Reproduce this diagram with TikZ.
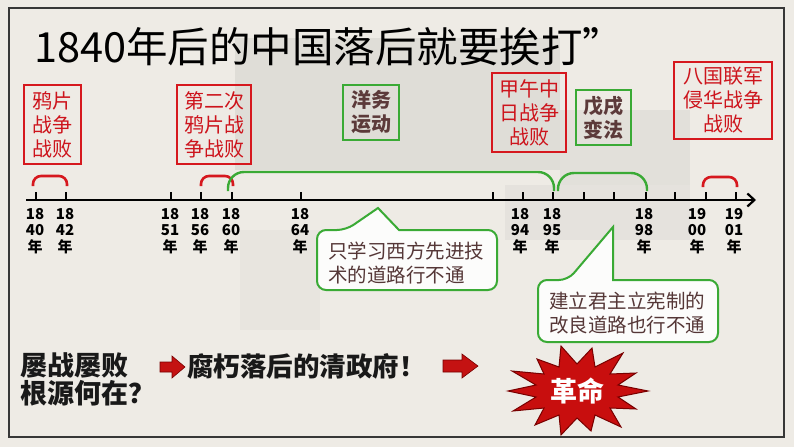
\documentclass[tikz,border=0pt]{standalone}
\usepackage{fontspec}
\setmainfont{Noto Sans CJK SC}
\usetikzlibrary{arrows.meta}
\definecolor{boxred}{RGB}{214,24,30}
\definecolor{txtred}{RGB}{205,20,28}
\definecolor{boxgreen}{RGB}{58,170,53}
\definecolor{txtbrown}{RGB}{92,58,58}
\definecolor{calltxt}{RGB}{85,55,55}
\definecolor{framecol}{RGB}{55,55,55}
\definecolor{bgcol}{RGB}{238,235,229}
\definecolor{arrowred}{RGB}{196,18,18}
\definecolor{burstred}{RGB}{200,14,14}
\definecolor{burstedge}{RGB}{120,0,0}
\tikzset{
 redbox/.style={draw=boxred, line width=2.4pt, text=txtred, font=\fontsize{20}{24}\selectfont, align=center, inner sep=0pt},
 greenbox/.style={draw=boxgreen, line width=2.4pt, text=txtbrown, font=\fontsize{20}{24}\selectfont\bfseries, align=center, inner sep=0pt},
 yearlbl/.style={font=\fontsize{15}{16.5}\selectfont\bfseries, align=center, anchor=north, inner sep=0pt},
 tickmark/.style={line width=2pt},
 redbracket/.style={draw=boxred, line width=2.6pt, rounded corners=8pt},
 greenbracket/.style={draw=boxgreen, line width=2.4pt, rounded corners=16pt},
 callout/.style={draw=boxgreen, line width=2pt, fill=white, fill opacity=0.85},
 calltext/.style={text=calltxt, font=\fontsize{19.5}{24}\selectfont, align=left, inner sep=0pt},
 bottomtxt/.style={font=\fontsize{27}{30}\selectfont\bfseries, anchor=west, inner sep=0pt, text=black!90},
 blockarrow/.style={fill=arrowred, draw=burstedge, line width=0.6pt},
}
\begin{document}
\begin{tikzpicture}[x=1pt,y=-1pt]
\useasboundingbox (0,0) rectangle (794,447);
% background
\fill[bgcol] (0,0) rectangle (794,447);
\fill[gray, opacity=0.13] (235,38) rectangle (560,170);
\fill[gray, opacity=0.10] (560,110) rectangle (690,185);
\fill[gray, opacity=0.08] (505,185) rectangle (690,240);
\fill[gray, opacity=0.05] (240,230) rectangle (320,330);
\draw[framecol, line width=2pt] (9,8) rectangle (784,437);

% title
\node[anchor=west, inner sep=0pt, font=\fontsize{41.5}{45}\selectfont] (title) at (34,47) {1840年后的中国落后就要挨打”};

% event boxes
\node[redbox, minimum width=57pt, minimum height=79pt] (b1) at (52.5,124.5) {鸦片\\战争\\战败};
\node[redbox, minimum width=74pt, minimum height=79pt] (b2) at (214,124.5) {第二次\\鸦片战\\争战败};
\node[greenbox, minimum width=56pt, minimum height=55pt] (b3) at (371,112.5) {洋务\\运动};
\node[redbox, minimum width=74pt, minimum height=79pt] (b4) at (529,112.5) {甲午中\\日战争\\战败};
\node[greenbox, minimum width=55pt, minimum height=55pt] (b5) at (603.5,117.5) {戊戌\\变法};
\node[redbox, minimum width=98pt, minimum height=77pt] (b6) at (723,100.5) {八国联军\\侵华战争\\战败};

% brackets
\draw[redbracket] (33,186) -- (33,176) -- (67,176) -- (67,186);
\draw[redbracket] (201,186) -- (201,176) -- (233,176) -- (233,186);
\draw[redbracket] (703,187) -- (703,177) -- (737,177) -- (737,187);
\draw[greenbracket] (228,191) -- (228,172) -- (554,172) -- (554,191);
\draw[greenbracket] (558,191) -- (558,173) -- (647,173) -- (647,191);

% axis
\coordinate (axs) at (26,200);
\coordinate (axe) at (756,200);
\draw[line width=2.2pt, -{Straight Barb[length=7pt,width=13pt]}] (axs) -- (axe);
\foreach \x in {36,66,171,201,232,301,493,523,553,584,614,646,675,706,736}
  \draw[tickmark] (\x,192) -- (\x,200);
\foreach \x/\a/\b in {35/18/40, 65/18/42, 170/18/51, 200/18/56, 231/18/60, 300/18/64, 520/18/94, 552/18/95, 644/18/98, 697/19/00, 734/19/01}
  \node[yearlbl] (y\a\b) at (\x,208) {\a\\\b\\年};

% callouts
\draw[callout] (346,230) -- (378,208) -- (399,230) [rounded corners=9pt] -- (497,230) -- (497,290) -- (317,290) -- (317,230) -- cycle;
\node[calltext] (c1) at (406,263) {只学习西方先进技\\术的道路行不通};
\draw[callout] (568,280) -- (613,227) -- (613,280) [rounded corners=9pt] -- (718,280) -- (718,342) -- (538,342) -- (538,280) -- cycle;
\node[calltext] (c2) at (627,313) {建立君主立宪制的\\改良道路也行不通};

% bottom texts
\node[bottomtxt] (q1) at (20,365) {屡战屡败};
\node[bottomtxt] (q2) at (20,393) {根源何在？};
\node[bottomtxt, font=\fontsize{26.5}{30}\selectfont\bfseries] (gov) at (187,366) {腐朽落后的清政府！};

% block arrows
\fill[blockarrow] (160,362) -- (172,362) -- (172,356) -- (185,367) -- (172,378) -- (172,372) -- (160,372) -- cycle;
\fill[blockarrow] (443,360) -- (462,360) -- (462,354) -- (478,366) -- (462,378) -- (462,372) -- (443,372) -- cycle;

% starburst
\filldraw[fill=burstred, draw=burstedge, line width=1pt]
 (648,391) -- (618,397) -- (636,409) -- (610,408) -- (621,427) -- (595,415) -- (591,431) -- (577,418)
 -- (561,435) -- (559,415) -- (535,425) -- (544,408) -- (513,411) -- (536,397) -- (508,391) -- (536,385)
 -- (512,371) -- (544,374) -- (537,359) -- (559,367) -- (561,346) -- (577,364) -- (592,348) -- (595,367)
 -- (623,353) -- (610,374) -- (636,373) -- (618,385) -- cycle;
\node[font=\fontsize{27}{30}\selectfont\bfseries, text=white, inner sep=0pt] (rev) at (577,391) {革命};
\end{tikzpicture}
\end{document}
